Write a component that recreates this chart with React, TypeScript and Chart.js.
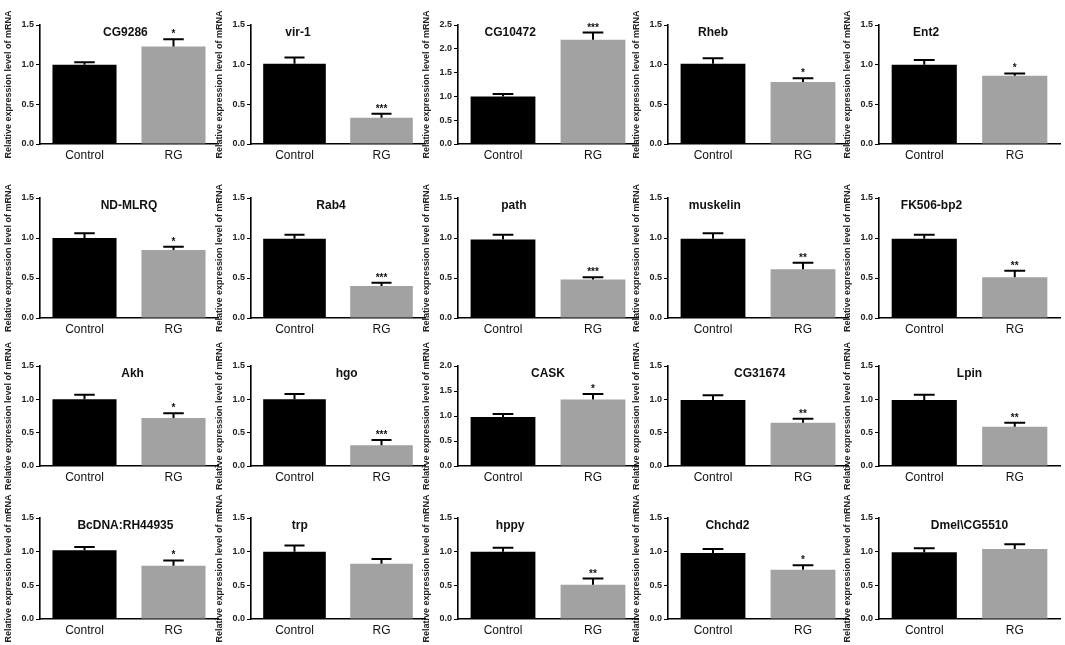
import React, { useEffect, useRef } from "react";
import { Chart, registerables } from "chart.js";
Chart.register(...registerables);

const categories = ["Control", "RG"];
const yTitle = "Relative expression level of mRNA";

const genes = [
  "CG9286", "vir-1", "CG10472", "Rheb", "Ent2",
  "ND-MLRQ", "Rab4", "path", "muskelin", "FK506-bp2",
  "Akh", "hgo", "CASK", "CG31674", "Lpin",
  "BcDNA:RH44935", "trp", "hppy", "Chchd2", "Dmel\\CG5510",
];
const controlMeans = [
  1.0, 1.01, 1.0, 1.01, 1.0,
  1.0, 0.99, 0.98, 0.99, 0.99,
  1.0, 1.0, 0.98, 0.99, 0.99,
  1.02, 1.0, 1.0, 0.98, 0.99,
];
const controlErrors = [
  0.03, 0.08, 0.05, 0.07, 0.06,
  0.06, 0.05, 0.06, 0.07, 0.05,
  0.07, 0.08, 0.06, 0.07, 0.08,
  0.05, 0.09, 0.06, 0.06, 0.06,
];
const rgMeans = [
  1.23, 0.33, 2.19, 0.78, 0.86,
  0.85, 0.4, 0.48, 0.61, 0.51,
  0.72, 0.31, 1.33, 0.65, 0.59,
  0.79, 0.82, 0.51, 0.73, 1.04,
];
const rgErrors = [
  0.09, 0.05, 0.15, 0.05, 0.03,
  0.04, 0.04, 0.03, 0.08, 0.08,
  0.07, 0.08, 0.11, 0.06, 0.06,
  0.08, 0.07, 0.09, 0.07, 0.07,
];
const significance = [
  "*", "***", "***", "*", "*",
  "*", "***", "***", "**", "**",
  "*", "***", "*", "**", "**",
  "*", "", "**", "*", "",
];
const yMaxima = [
  1.5, 1.5, 2.5, 1.5, 1.5,
  1.5, 1.5, 1.5, 1.5, 1.5,
  1.5, 1.5, 2.0, 1.5, 1.5,
  1.5, 1.5, 1.5, 1.5, 1.5,
];

// layout (pixel positions of each panel's axes)
const colAxisX = [40, 251, 458, 668, 879];
const colRight = [218, 425, 638, 848, 1060];
const rowTop = [25, 198, 366, 518];
const rowZero = [144, 318, 466, 619];
const titleFrac = [
  0.48, 0.27, 0.29, 0.25, 0.26,
  0.5, 0.46, 0.31, 0.26, 0.29,
  0.52, 0.55, 0.5, 0.51, 0.5,
  0.48, 0.28, 0.29, 0.33, 0.5,
];

const FONT = "'Liberation Sans', Arial, sans-serif";
const PAD_TOP = 28;
const PAD_BOTTOM = 8;
const Y_W = 40;
const X_H = 22;
const PAD_RIGHT = 4;

function Panel({ i }: { i: number }) {
  const ref = useRef<HTMLCanvasElement>(null);
  const r = Math.floor(i / 5);
  const c = i % 5;
  const left = colAxisX[c] - Y_W;
  const top = rowTop[r] - PAD_TOP;
  const width = colRight[c] - left + PAD_RIGHT;
  const height = rowZero[r] - rowTop[r] + PAD_TOP + X_H + PAD_BOTTOM;

  useEffect(() => {
    if (!ref.current) return;
    const means = [controlMeans[i], rgMeans[i]];
    const errs = [controlErrors[i], rgErrors[i]];
    const overlay = {
      id: "overlay" + i,
      afterDatasetsDraw(chart: any) {
        const ctx = chart.ctx;
        const y = chart.scales.y;
        const meta = chart.getDatasetMeta(0);
        ctx.save();
        ctx.strokeStyle = "#000";
        ctx.lineWidth = 2;
        meta.data.forEach((bar: any, j: number) => {
          const x = bar.x;
          const y0 = y.getPixelForValue(means[j]);
          const y1 = y.getPixelForValue(means[j] + errs[j]);
          const cap = bar.width * 0.32;
          ctx.beginPath();
          ctx.moveTo(x, y0);
          ctx.lineTo(x, y1);
          ctx.moveTo(x - cap / 2, y1);
          ctx.lineTo(x + cap / 2, y1);
          ctx.stroke();
          if (j === 1 && significance[i]) {
            ctx.fillStyle = "#111";
            ctx.font = `bold 10px ${FONT}`;
            ctx.textAlign = "center";
            ctx.textBaseline = "alphabetic";
            ctx.fillText(significance[i], x, y1 - 2);
          }
        });
        const ca = chart.chartArea;
        ctx.fillStyle = "#111";
        ctx.font = `bold 12px ${FONT}`;
        ctx.textAlign = "center";
        ctx.textBaseline = "middle";
        ctx.fillText(genes[i], ca.left + titleFrac[i] * (ca.right - ca.left), ca.top + 8);
        ctx.restore();
      },
    };
    const chart = new Chart(ref.current, {
      type: "bar",
      data: {
        labels: categories,
        datasets: [
          {
            data: means,
            backgroundColor: ["#000000", "#a2a2a2"],
            borderWidth: 0,
            barPercentage: 0.72,
            categoryPercentage: 1,
          },
        ],
      },
      options: {
        responsive: false,
        animation: false,
        layout: { padding: { top: PAD_TOP, bottom: PAD_BOTTOM, left: 0, right: PAD_RIGHT } },
        plugins: { legend: { display: false }, tooltip: { enabled: false }, title: { display: false } },
        scales: {
          x: {
            afterFit(scale: any) {
              scale.height = X_H;
            },
            grid: { display: true, drawOnChartArea: false, drawTicks: false, color: "#000" },
            border: { display: true, color: "#000", width: 1.6 },
            ticks: { color: "#111", font: { family: FONT, size: 12 }, padding: 4 },
          },
          y: {
            min: 0,
            max: yMaxima[i],
            afterFit(scale: any) {
              scale.width = Y_W;
            },
            grid: { display: true, drawOnChartArea: false, drawTicks: true, tickLength: 4, color: "#000", lineWidth: 1 },
            border: { display: true, color: "#000", width: 1.6 },
            ticks: {
              stepSize: 0.5,
              color: "#222",
              padding: 2,
              font: { family: FONT, size: 9, weight: "bold" },
              callback: (v: any) => Number(v).toFixed(1),
            },
            title: {
              display: true,
              text: yTitle,
              color: "#222",
              font: { family: FONT, size: 9, weight: "bold" },
              padding: { top: 3, bottom: 0 },
            },
          },
        },
      },
      plugins: [overlay],
    } as any);
    return () => chart.destroy();
  }, [i]);

  return (
    <canvas
      ref={ref}
      width={width}
      height={height}
      style={{ position: "absolute", left, top, width, height }}
    />
  );
}

export default function App() {
  return (
    <div
      style={{
        position: "fixed",
        left: 0,
        top: 0,
        width: 1065,
        height: 645,
        background: "#fff",
        overflow: "hidden",
      }}
    >
      {genes.map((_, i) => (
        <Panel key={i} i={i} />
      ))}
    </div>
  );
}
